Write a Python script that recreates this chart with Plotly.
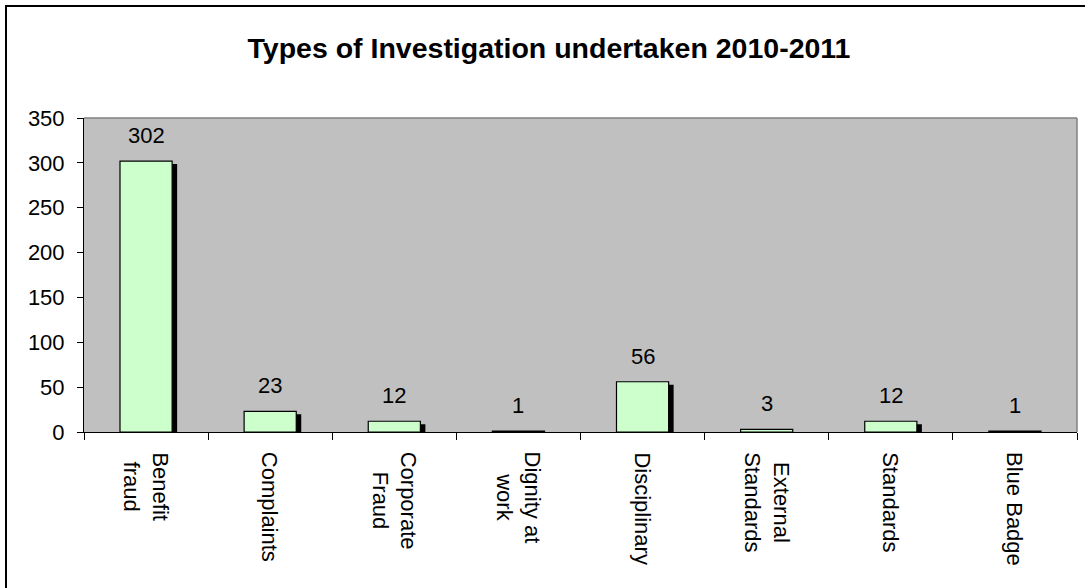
import plotly.graph_objects as go

# ---- data ----
categories = ["Benefit fraud", "Complaints", "Corporate Fraud", "Dignity at work",
              "Disciplinary", "External Standards", "Standards", "Blue Badge"]
tick_labels = ["Benefit<br>fraud", "Complaints", "Corporate<br>Fraud", "Dignity at<br>work",
               "Disciplinary", "External<br>Standards", "Standards", "Blue Badge"]
values = [302, 23, 12, 1, 56, 3, 12, 1]
y_ticks = [0, 50, 100, 150, 200, 250, 300, 350]
title_text = "Types of Investigation undertaken 2010-2011"

# ---- style ----
W, H = 1085, 588
L, R, T, B = 84, 8, 118, 156
FONT = "Liberation Sans, Arial, sans-serif"
FS = 22
BAR_W = 0.42
plot_h = H - T - B
plot_w = W - L - R
units_per_px = 350 / plot_h
shadow_drop = 3 * units_per_px
shadow_shift = 5 / (plot_w / len(categories))

fig = go.Figure()
# shadow bars
fig.add_trace(go.Bar(
    x=categories, y=[max(v - shadow_drop, 0) for v in values],
    width=BAR_W, offset=-BAR_W / 2 + shadow_shift,
    marker=dict(color="#000000", line=dict(width=0)),
    hoverinfo="skip", showlegend=False,
))
# main bars
fig.add_trace(go.Bar(
    x=categories, y=values,
    width=BAR_W, offset=-BAR_W / 2,
    marker=dict(color="#CCFFCC", line=dict(color="#000000", width=1.2)),
    showlegend=False,
))

# value labels
for c, v in zip(categories, values):
    fig.add_annotation(x=c, y=v, text=str(v), showarrow=False,
                       xref="x", yref="y", yanchor="bottom", yshift=11,
                       font=dict(family=FONT, size=FS, color="#000"))

# rotated category labels (lines centred like the original)
for c, lab in zip(categories, tick_labels):
    fig.add_annotation(x=c, y=0, text=lab, showarrow=False, textangle=90,
                       xref="x", yref="paper", yanchor="top", xanchor="center",
                       yshift=-18, align="center",
                       font=dict(family=FONT, size=FS, color="#000"))

fig.update_layout(
    width=W, height=H,
    margin=dict(l=L, r=R, t=T, b=B),
    paper_bgcolor="#FFFFFF",
    plot_bgcolor="#C0C0C0",
    barmode="overlay",
    font=dict(family=FONT, size=FS, color="#000"),
    title=dict(text=f"<b>{title_text}</b>", x=(248 + 850) / 2 / W, xanchor="center",
               y=1 - 48 / H, yanchor="middle",
               font=dict(family=FONT, size=28.5, color="#000")),
    xaxis=dict(
        type="category", showgrid=False, showticklabels=False,
        showline=True, linecolor="#000", linewidth=1,
        ticks="outside", ticklen=7, tickcolor="#000", tickson="boundaries",
    ),
    yaxis=dict(
        range=[0, 350], tickvals=y_ticks, showgrid=False, zeroline=False,
        showline=True, linecolor="#000", linewidth=1,
        ticks="outside", ticklen=6, tickcolor="#000",
        tickfont=dict(family=FONT, size=FS, color="#000"),
        ticklabelstandoff=8,
    ),
    shapes=[
        dict(type="line", xref="paper", yref="paper", x0=0, x1=1, y0=1, y1=1,
             line=dict(color="#808080", width=1.5)),
        dict(type="line", xref="paper", yref="paper", x0=1, x1=1, y0=0, y1=1,
             line=dict(color="#808080", width=1.5)),
        dict(type="rect", xref="paper", yref="paper",
             x0=(6 - L) / plot_w, x1=(W + 10 - L) / plot_w,
             y0=-(B + 10) / plot_h, y1=(H - 6 - B) / plot_h,
             line=dict(color="#000", width=2)),
    ],
)

fig.write_html("out.html",
               config={"displayModeBar": False},
               post_script="document.body.style.margin='0';document.body.style.padding='0';")
